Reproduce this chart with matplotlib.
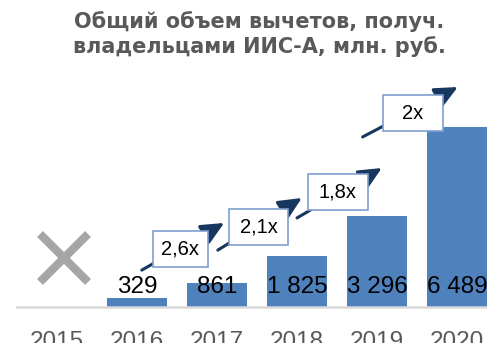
import matplotlib
matplotlib.use("Agg")
from matplotlib import pyplot as plt
from matplotlib.patches import Rectangle

years = ["2015", "2016", "2017", "2018", "2019", "2020"]
deductions = [None, 329, 861, 1825, 3296, 6489]   # млн. руб., 2015 - no data
value_labels = ["", "329", "861", "1 825", "3 296", "6 489"]

growth_labels = ["2,6x", "2,1x", "1,8x", "2x"]
growth_box_xy = [(1.54, 2090), (2.52, 2870), (3.51, 4130), (4.45, 6990)]
growth_box_w = [0.69, 0.74, 0.75, 0.75]
growth_arrow_from = [(1.06, 1330), (2.01, 2050), (3.0, 3210), (3.82, 6130)]
growth_arrow_to = [(2.09, 3030), (3.06, 3930), (4.06, 5010), (5.01, 7930)]

W, H = 487, 343
BLUE = "#4F81BD"
NAVY = "#17375E"
GRAY = "#595959"
NUM_FONT = ["Liberation Sans", "DejaVu Sans"]
PX_Y = 36.05  # value units per pixel

fig = plt.figure(figsize=(W / 100, H / 100), dpi=100)
ax = fig.add_axes([0, 36 / H, 1, 247 / H])
ax.set_xlim(-57 / 80, (W - 57) / 80)
ax.set_ylim(0, 247 * PX_Y)
ax.axis("off")

xs = list(range(len(years)))
for x, v in zip(xs, deductions):
    if v is not None:
        ax.bar(x, v, width=0.76, color=BLUE, zorder=2)

# baseline
ax.plot([-0.5, 6], [0, 0], color="#D9D9D9", lw=1.8, zorder=3, clip_on=False)

for x, lab in zip(xs, value_labels):
    if lab:
        ax.text(x, 505, lab, ha="center", va="baseline", fontsize=17.5,
                family=NUM_FONT, color="black", zorder=5)

# no data in 2015
ax.plot(0.09, 1750, marker="x", ms=34, mew=6, color="#A6A6A6", zorder=4)

for (x0, y0), (x1, y1) in zip(growth_arrow_from, growth_arrow_to):
    ax.annotate("", xy=(x1, y1), xytext=(x0, y0),
                arrowprops=dict(arrowstyle="-|>,head_length=1.4,head_width=0.65",
                                mutation_scale=10, color=NAVY, lw=2.2,
                                shrinkA=0, shrinkB=0), zorder=6)

for (bx, by), bw, lab in zip(growth_box_xy, growth_box_w, growth_labels):
    bh = 36 * PX_Y
    ax.add_patch(Rectangle((bx - bw / 2, by - bh / 2), bw, bh, fc="white",
                           ec="#7F9FCF", lw=1.2, zorder=7))
    ax.text(bx, by, lab, ha="center", va="center", fontsize=14.5, family=NUM_FONT,
            color="black", zorder=8)

for x, y in zip(xs, years):
    fig.text((57 + 80 * x) / W, -5 / H, y, ha="center", va="baseline",
             fontsize=17.5, family=NUM_FONT, color=GRAY)

fig.text(259 / W, 1 - 34 / H, "Общий объем вычетов, получ.\nвладельцами ИИС-А, млн. руб.",
         ha="center", va="center", fontsize=15, fontweight="bold", color=GRAY,
         linespacing=1.2)

fig.savefig("out.png", dpi=100)
